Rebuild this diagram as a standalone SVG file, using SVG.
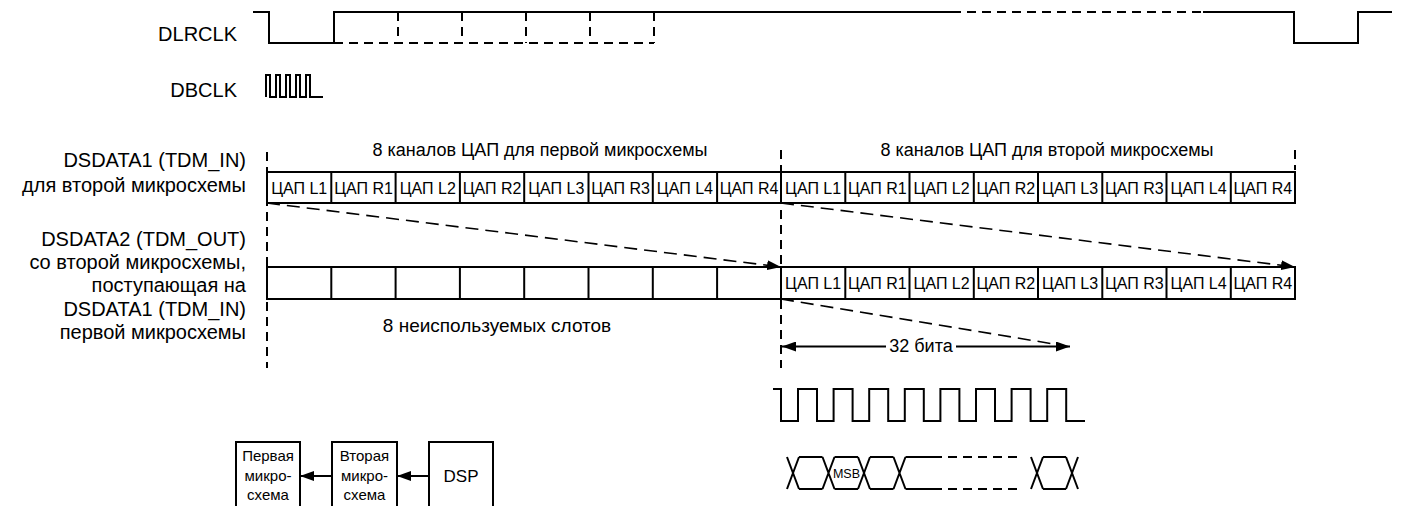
<svg xmlns="http://www.w3.org/2000/svg" width="1401" height="506" viewBox="0 0 1401 506">
<style>
text{font-family:"Liberation Sans",Arial,sans-serif;fill:#000}
.lbl{font-size:20px;text-anchor:end}
.cell{font-size:16px;text-anchor:middle}
.hd{font-size:18px;text-anchor:middle}
.w{fill:none;stroke:#000;stroke-width:2}
.d{fill:none;stroke:#000;stroke-width:2;stroke-dasharray:9 6}
.dd{fill:none;stroke:#000;stroke-width:1.6;stroke-dasharray:13 7}
.box{fill:#fff;stroke:#000;stroke-width:2}
</style>
<defs>
<marker id="ah" markerUnits="userSpaceOnUse" markerWidth="14" markerHeight="10" refX="14" refY="5" orient="auto-start-reverse">
<path d="M0,0 L14,5 L0,10 z" fill="#000"/>
</marker>
</defs>
<rect width="1401" height="506" fill="#fff"/>

<g id="labels">
<text class="lbl" x="237" y="41">DLRCLK</text>
<text class="lbl" x="237" y="97">DBCLK</text>
<text class="lbl" x="246" y="167">DSDATA1 (TDM_IN)</text>
<text class="lbl" x="246" y="192">для второй микросхемы</text>
<text class="lbl" x="246" y="246">DSDATA2 (TDM_OUT)</text>
<text class="lbl" x="246" y="269">со второй микросхемы,</text>
<text class="lbl" x="246" y="292">поступающая на</text>
<text class="lbl" x="246" y="316">DSDATA1 (TDM_IN)</text>
<text class="lbl" x="246" y="339">первой микросхемы</text>
</g>

<g id="dlrclk">
<path class="w" d="M253,12 H269 V43 H334 V12 H952"/>
<path class="d" d="M952,12 H1203"/>
<path class="w" d="M1203,12 H1294 V43 H1358 V12 H1392"/>
<path class="d" d="M334,43 H654 M398,12 V43 M462,12 V43 M526,12 V43 M590,12 V43 M654,12 V43"/>
</g>

<g id="dbclk">
<path class="w" stroke-width="1.6" d="M266,97 V75 H270 V97 H276 V75 H280 V97 H286 V75 H290 V97 H296 V75 H300 V97 H306 V75 H310 V97 H323"/>
</g>

<g id="guides">
<path class="d" d="M267,152 V368 M781,150 V368 M1295,150 V170"/>
</g>

<g id="row1">
<rect class="box" x="267" y="172" width="1028" height="31"/>
<path class="w" d="M331.3,172 V203 M395.6,172 V203 M459.9,172 V203 M524.2,172 V203 M588.5,172 V203 M652.8,172 V203 M717.1,172 V203 M781,172 V203 M845.3,172 V203 M909.5,172 V203 M973.8,172 V203 M1038,172 V203 M1102.3,172 V203 M1166.5,172 V203 M1230.8,172 V203"/>
<text class="cell" x="299.2" y="193.5">ЦАП L1</text>
<text class="cell" x="363.5" y="193.5">ЦАП R1</text>
<text class="cell" x="427.8" y="193.5">ЦАП L2</text>
<text class="cell" x="492" y="193.5">ЦАП R2</text>
<text class="cell" x="556.3" y="193.5">ЦАП L3</text>
<text class="cell" x="620.6" y="193.5">ЦАП R3</text>
<text class="cell" x="684.9" y="193.5">ЦАП L4</text>
<text class="cell" x="749" y="193.5">ЦАП R4</text>
<text class="cell" x="813.1" y="193.5">ЦАП L1</text>
<text class="cell" x="877.4" y="193.5">ЦАП R1</text>
<text class="cell" x="941.6" y="193.5">ЦАП L2</text>
<text class="cell" x="1005.9" y="193.5">ЦАП R2</text>
<text class="cell" x="1070.1" y="193.5">ЦАП L3</text>
<text class="cell" x="1134.4" y="193.5">ЦАП R3</text>
<text class="cell" x="1198.6" y="193.5">ЦАП L4</text>
<text class="cell" x="1262.9" y="193.5">ЦАП R4</text>
<text class="hd" x="540" y="156">8 каналов ЦАП для первой микросхемы</text>
<text class="hd" x="1047" y="156">8 каналов ЦАП для второй микросхемы</text>
</g>

<g id="row2">
<rect class="box" x="267" y="267" width="1028" height="32"/>
<path class="w" d="M331.3,267 V299 M395.6,267 V299 M459.9,267 V299 M524.2,267 V299 M588.5,267 V299 M652.8,267 V299 M717.1,267 V299 M781,267 V299 M845.3,267 V299 M909.5,267 V299 M973.8,267 V299 M1038,267 V299 M1102.3,267 V299 M1166.5,267 V299 M1230.8,267 V299"/>
<text class="cell" x="813.1" y="289">ЦАП L1</text>
<text class="cell" x="877.4" y="289">ЦАП R1</text>
<text class="cell" x="941.6" y="289">ЦАП L2</text>
<text class="cell" x="1005.9" y="289">ЦАП R2</text>
<text class="cell" x="1070.1" y="289">ЦАП L3</text>
<text class="cell" x="1134.4" y="289">ЦАП R3</text>
<text class="cell" x="1198.6" y="289">ЦАП L4</text>
<text class="cell" x="1262.9" y="289">ЦАП R4</text>
<text x="497" y="332" font-size="19" text-anchor="middle">8 неиспользуемых слотов</text>
</g>

<g id="connectors">
<path class="dd" d="M267,203 L781,267" marker-end="url(#ah)"/>
<path class="dd" d="M781,203 L1295,267" marker-end="url(#ah)"/>
<path class="dd" d="M781,299 L1066,346"/>
<path class="w" d="M782,346.5 H886" marker-start="url(#ah)"/>
<path class="w" d="M956,346.5 H1070" marker-end="url(#ah)"/>
<path class="w" d="M332,476 H300" marker-end="url(#ah)"/>
<path class="w" d="M429,476 H397" marker-end="url(#ah)"/>
</g>
<text class="hd" x="921" y="352">32 бита</text>

<g id="bclk-detail">
<path class="w" d="M773,389 H781 V421 H798 V389 H817 V421 H833.6 V389 H852.6 V421 H869.2 V389 H888.2 V421 H904.8 V389 H923.8 V421 H940.4 V389 H959.4 V421 H976 V389 H995 V421 H1011.6 V389 H1030.6 V421 H1047.2 V389 H1066.2 V421 H1085"/>
</g>

<g id="data-detail">
<path class="w" d="M787,457 L799,489 M787,489 L799,457 M822.5,457 L834.5,489 M822.5,489 L834.5,457 M858,457 L870,489 M858,489 L870,457 M893.5,457 L905.5,489 M893.5,489 L905.5,457 M1031,457 L1043,489 M1031,489 L1043,457 M1066,457 L1078,489 M1066,489 L1078,457"/>
<path class="w" d="M799,457 H822.5 M799,489 H822.5 M834.5,457 H858 M834.5,489 H858 M870,457 H893.5 M870,489 H893.5 M905.5,457 H933 M905.5,489 H933 M1043,457 H1066 M1043,489 H1066"/>
<path class="d" d="M933,457 H1017 M933,489 H1017"/>
<text x="846.5" y="477.5" font-size="12.5" text-anchor="middle">MSB</text>
</g>

<g id="chip1">
<rect class="box" x="236" y="442" width="64" height="70"/>
<text x="268" y="461" font-size="15" text-anchor="middle">Первая</text>
<text x="268" y="481" font-size="15" text-anchor="middle">микро-</text>
<text x="268" y="500" font-size="15" text-anchor="middle">схема</text>
</g>
<g id="chip2">
<rect class="box" x="332" y="442" width="65" height="70"/>
<text x="364.5" y="461" font-size="15" text-anchor="middle">Вторая</text>
<text x="364.5" y="481" font-size="15" text-anchor="middle">микро-</text>
<text x="364.5" y="500" font-size="15" text-anchor="middle">схема</text>
</g>
<g id="dsp">
<rect class="box" x="429" y="442" width="64" height="70"/>
<text x="461" y="482" font-size="17" text-anchor="middle">DSP</text>
</g>
</svg>
